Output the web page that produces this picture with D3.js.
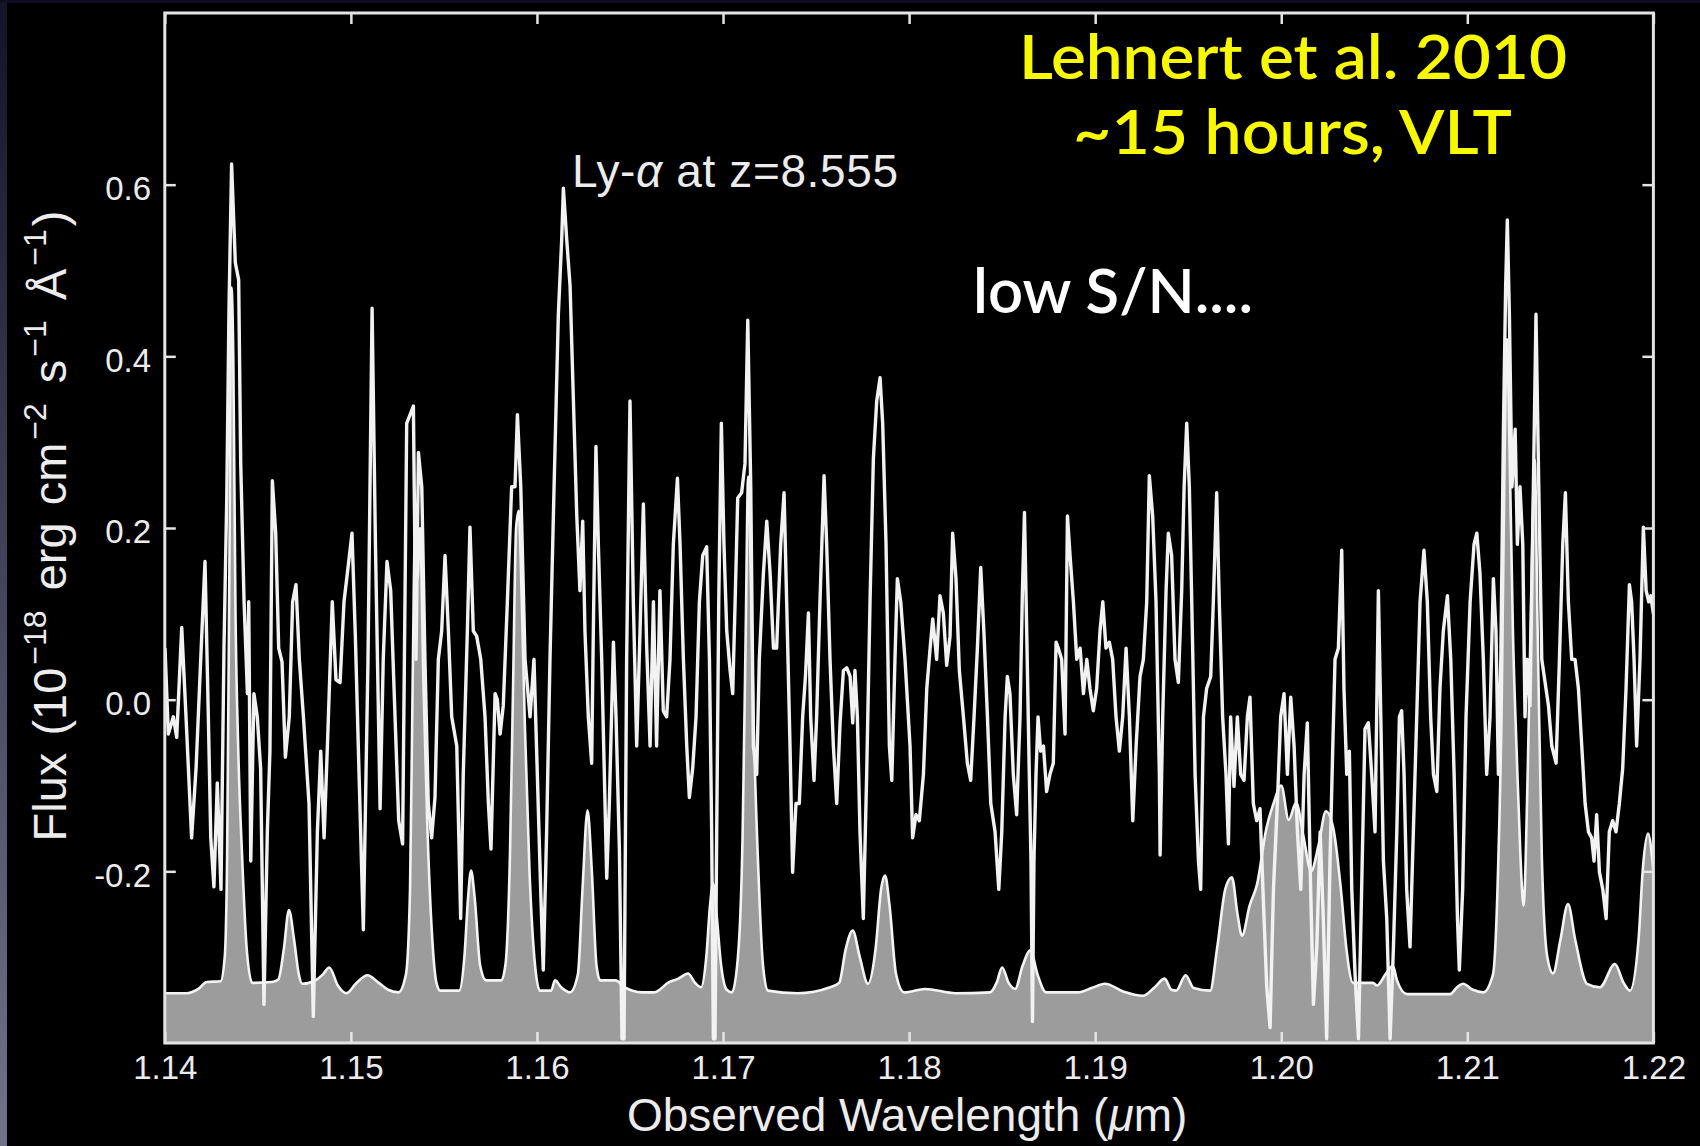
<!DOCTYPE html>
<html>
<head>
<meta charset="utf-8">
<script src="https://cdnjs.cloudflare.com/ajax/libs/d3/7.8.5/d3.min.js"></script>
<style>
  html, body { margin: 0; padding: 0; background: #000; }
  svg { display: block; }
</style>
</head>
<body>
<svg id="chart" width="1700" height="1146"></svg>
<script>
var xTicks = [1.14, 1.15, 1.16, 1.17, 1.18, 1.19, 1.20, 1.21, 1.22];
var xTickLabels = ['1.14', '1.15', '1.16', '1.17', '1.18', '1.19', '1.20', '1.21', '1.22'];
var yTicks = [-0.2, 0.0, 0.2, 0.4, 0.6];
var yTickLabels = ['-0.2', '0.0', '0.2', '0.4', '0.6'];

// object spectrum [wavelength (um), flux]
var spectrum = [
 [1.14001,0.060],[1.14019,-0.040],[1.14046,-0.020],[1.14064,-0.044],[1.14091,0.084],[1.14114,-0.020],[1.14144,-0.161],[1.14168,-0.080],[1.14193,0.047],[1.14216,0.161],[1.14234,-0.020],[1.14247,-0.161],[1.14264,-0.218],[1.14282,-0.097],[1.14302,-0.221],[1.14318,0.060],[1.14333,0.235],[1.14345,0.456],[1.14359,0.624],[1.14379,0.509],[1.14397,0.489],[1.14408,0.275],[1.14426,0.114],[1.14444,0.007],[1.14451,0.114],[1.14462,-0.188],[1.14479,0.007],[1.14497,-0.020],[1.14515,-0.080],[1.14533,-0.355],[1.14551,-0.154],[1.14565,-0.060],[1.14578,0.255],[1.14596,0.194],[1.14612,0.060],[1.14630,0.044],[1.14648,-0.067],[1.14669,-0.020],[1.14687,0.114],[1.14705,0.134],[1.14723,0.047],[1.14745,-0.020],[1.14775,-0.121],[1.14798,-0.369],[1.14820,-0.154],[1.14838,-0.060],[1.14856,-0.161],[1.14875,-0.047],[1.14900,0.114],[1.14920,0.023],[1.14942,0.020],[1.14963,0.114],[1.14981,0.147],[1.15006,0.194],[1.15024,0.074],[1.15044,-0.087],[1.15067,-0.268],[1.15092,0.047],[1.15114,0.456],[1.15132,0.181],[1.15157,-0.127],[1.15174,0.047],[1.15194,0.161],[1.15214,0.127],[1.15232,0.013],[1.15257,-0.141],[1.15278,-0.168],[1.15300,0.322],
 [1.15336,0.342],[1.15350,0.047],[1.15363,0.288],[1.15381,0.248],[1.15398,0.047],[1.15416,-0.121],[1.15434,-0.161],[1.15452,-0.114],[1.15470,0.047],[1.15488,0.080],[1.15506,0.168],[1.15524,0.080],[1.15542,-0.020],[1.15569,-0.054],[1.15590,-0.255],[1.15604,-0.087],[1.15626,0.080],[1.15640,0.201],[1.15658,0.080],[1.15676,0.074],[1.15698,0.047],[1.15721,-0.020],[1.15739,-0.121],[1.15753,-0.174],[1.15775,0.007],[1.15787,0.000],[1.15802,-0.040],[1.15819,-0.007],[1.15841,0.114],[1.15864,0.248],[1.15882,0.248],[1.15895,0.332],[1.15913,0.248],[1.15936,0.047],[1.15963,-0.020],[1.15984,0.047],[1.16002,-0.087],[1.16020,-0.221],[1.16034,-0.315],[1.16052,-0.154],[1.16070,0.047],[1.16092,0.248],[1.16115,0.449],[1.16133,0.536],[1.16142,0.596],[1.16160,0.536],[1.16178,0.482],[1.16196,0.348],[1.16214,0.214],[1.16231,0.127],[1.16246,0.208],[1.16258,0.080],[1.16276,-0.020],[1.16294,-0.074],[1.16303,0.080],[1.16317,0.295],[1.16330,0.181],[1.16348,0.047],[1.16375,-0.208],[1.16389,-0.121],[1.16411,0.067],[1.16425,-0.020],[1.16443,-0.174],[1.16457,-0.395],[1.16468,-0.395],[1.16482,0.047],[1.16500,0.348],[1.16518,0.114],[1.16536,-0.054],[1.16554,0.080],[1.16572,0.228],[1.16590,0.060],[1.16608,-0.054],[1.16626,0.114],[1.16643,-0.054],
 [1.16661,0.127],[1.16679,-0.013],[1.16697,-0.020],[1.16715,0.047],[1.16733,0.181],[1.16755,0.258],[1.16769,0.181],[1.16787,0.047],[1.16805,-0.054],[1.16819,-0.114],[1.16837,-0.080],[1.16855,-0.020],[1.16873,0.114],[1.16891,0.168],[1.16912,0.178],[1.16927,0.047],[1.16939,-0.154],[1.16948,-0.395],[1.16957,-0.395],[1.16966,-0.154],[1.16977,0.114],[1.16991,0.322],[1.17005,0.181],[1.17020,0.080],[1.17038,0.034],[1.17052,0.007],[1.17065,0.114],[1.17079,0.235],[1.17100,0.241],[1.17118,0.275],[1.17133,0.442],[1.17149,0.248],[1.17163,-0.054],[1.17181,-0.087],[1.17195,0.047],[1.17217,0.147],[1.17235,0.208],[1.17253,0.147],[1.17271,0.060],[1.17288,0.060],[1.17310,0.181],[1.17328,0.241],[1.17342,0.114],[1.17360,-0.054],[1.17374,-0.201],[1.17392,-0.121],[1.17410,-0.121],[1.17428,-0.020],[1.17443,0.027],[1.17459,0.101],[1.17471,-0.020],[1.17489,-0.094],[1.17503,-0.020],[1.17521,0.114],[1.17543,0.261],[1.17557,0.181],[1.17575,0.047],[1.17593,-0.054],[1.17611,-0.121],[1.17629,-0.027],[1.17647,0.034],[1.17665,0.037],[1.17683,0.027],[1.17697,-0.027],[1.17709,0.034],[1.17722,-0.020],[1.17736,-0.154],[1.17754,-0.255],[1.17772,-0.087],[1.17790,0.114],[1.17808,0.281],[1.17826,0.348],[1.17844,0.375],[1.17858,0.322],[1.17876,0.181],[1.17894,-0.054],[1.17907,-0.094],[1.17924,0.047],[1.17937,0.141],[1.17955,0.114],[1.17978,0.047],[1.18005,-0.054],
 [1.18019,-0.161],[1.18037,-0.134],[1.18055,-0.141],[1.18077,-0.087],[1.18095,0.013],[1.18113,0.060],[1.18127,0.094],[1.18148,0.047],[1.18166,0.121],[1.18184,0.101],[1.18202,0.040],[1.18220,0.074],[1.18234,0.194],[1.18252,0.141],[1.18270,0.034],[1.18292,-0.020],[1.18313,-0.074],[1.18331,-0.094],[1.18349,-0.020],[1.18367,0.060],[1.18385,0.154],[1.18403,0.074],[1.18421,-0.020],[1.18439,-0.121],[1.18462,-0.154],[1.18482,-0.221],[1.18498,-0.154],[1.18516,-0.020],[1.18528,0.027],[1.18542,0.007],[1.18560,-0.087],[1.18578,-0.134],[1.18596,-0.020],[1.18609,0.127],[1.18620,0.218],[1.18632,0.080],[1.18646,-0.087],[1.18655,-0.188],[1.18663,-0.375],[1.18671,-0.188],[1.18682,-0.087],[1.18693,-0.020],[1.18707,-0.060],[1.18722,-0.054],[1.18739,-0.107],[1.18757,-0.087],[1.18775,-0.074],[1.18790,0.067],[1.18802,0.060],[1.18820,0.047],[1.18838,-0.040],[1.18851,0.214],[1.18865,0.168],[1.18883,0.114],[1.18901,0.047],[1.18919,0.060],[1.18937,0.007],[1.18955,0.047],[1.18972,0.013],[1.18990,-0.013],[1.19008,0.013],[1.19026,0.080],[1.19041,0.114],[1.19058,0.060],[1.19076,0.067],[1.19094,0.047],[1.19112,-0.020],[1.19130,-0.060],[1.19148,-0.020],[1.19166,0.060],[1.19184,-0.020],[1.19202,-0.141],[1.19220,-0.054],[1.19241,0.027],[1.19259,0.047],[1.19277,0.114],[1.19291,0.261],[1.19309,0.214],[1.19327,0.114],[1.19345,-0.087],
 [1.19349,-0.181],[1.19363,-0.020],[1.19381,0.127],[1.19393,0.194],[1.19411,0.168],[1.19429,0.047],[1.19447,0.020],[1.19465,0.127],[1.19478,0.248],[1.19492,0.322],[1.19506,0.248],[1.19519,0.114],[1.19537,-0.087],[1.19555,-0.188],[1.19567,-0.221],[1.19582,-0.020],[1.19599,0.013],[1.19621,0.027],[1.19635,0.114],[1.19653,0.241],[1.19667,0.114],[1.19685,-0.020],[1.19703,-0.087],[1.19716,-0.168],[1.19728,-0.020],[1.19746,-0.101],[1.19764,-0.020],[1.19782,-0.087],[1.19800,-0.094],[1.19818,-0.020],[1.19832,0.003],[1.19850,-0.121],[1.19868,-0.141],[1.19886,-0.127],[1.19904,-0.235],[1.19922,-0.335],[1.19940,-0.382],[1.19958,-0.221],[1.19979,-0.121],[1.19997,-0.020],[1.20015,0.007],[1.20033,-0.087],[1.20051,0.003],[1.20069,-0.054],[1.20087,-0.154],[1.20105,-0.221],[1.20123,-0.087],[1.20140,-0.027],[1.20158,-0.221],[1.20173,-0.355],[1.20191,-0.288],[1.20209,-0.154],[1.20226,-0.255],[1.20244,-0.395],[1.20262,-0.188],[1.20277,-0.054],[1.20289,0.047],[1.20307,0.060],[1.20325,0.174],[1.20337,0.013],[1.20352,-0.087],[1.20366,-0.060],[1.20379,-0.221],[1.20397,-0.322],[1.20415,-0.395],[1.20432,-0.221],[1.20450,-0.034],[1.20468,-0.027],[1.20486,-0.087],[1.20504,-0.154],[1.20522,0.127],[1.20535,-0.020],[1.20549,-0.188],[1.20567,-0.255],[1.20585,-0.395],[1.20603,-0.288],[1.20621,-0.154],[1.20635,-0.020],[1.20647,-0.013],[1.20660,-0.087],[1.20674,-0.221],[1.20692,-0.288],
 [1.20710,-0.154],[1.20728,-0.020],[1.20746,0.114],[1.20767,0.174],[1.20785,0.114],[1.20803,-0.020],[1.20818,-0.087],[1.20836,-0.107],[1.20853,0.013],[1.20871,0.080],[1.20893,0.121],[1.20911,0.047],[1.20929,-0.087],[1.20947,-0.255],[1.20957,-0.315],[1.20975,-0.221],[1.20993,-0.020],[1.21015,0.114],[1.21036,0.181],[1.21051,0.194],[1.21068,0.147],[1.21086,0.047],[1.21104,-0.087],[1.21122,-0.020],[1.21140,0.141],[1.21154,0.080],[1.21167,-0.087],[1.21180,0.047],[1.21194,0.315],[1.21206,0.482],[1.21215,0.559],[1.21226,0.449],[1.21240,0.248],[1.21257,0.315],[1.21269,0.181],[1.21283,0.248],[1.21298,0.181],[1.21310,-0.020],[1.21323,0.047],[1.21337,-0.007],[1.21355,0.248],[1.21369,0.449],[1.21384,0.248],[1.21400,0.047],[1.21418,0.020],[1.21436,-0.007],[1.21454,-0.054],[1.21477,-0.074],[1.21495,0.047],[1.21513,0.181],[1.21527,0.241],[1.21543,0.114],[1.21561,0.047],[1.21579,0.047],[1.21597,0.013],[1.21615,-0.054],[1.21633,-0.121],[1.21651,-0.154],[1.21668,-0.161],[1.21681,-0.188],[1.21695,-0.134],[1.21710,-0.201],[1.21728,-0.221],[1.21746,-0.255],[1.21763,-0.154],[1.21781,-0.141],[1.21799,-0.154],[1.21817,-0.121],[1.21835,-0.080],[1.21853,0.013],[1.21871,0.134],[1.21883,0.114],[1.21896,0.047],[1.21910,-0.054],[1.21928,0.047],[1.21946,0.201],[1.21961,0.127],[1.21975,0.114],[1.21986,0.121],[1.22000,0.100]
];

// sky / noise spectrum (grey filled), [wavelength, flux]
var sky = [
 [1.14000,-0.342],[1.14120,-0.342],[1.14180,-0.337],[1.14225,-0.329],[1.14300,-0.328],[1.14322,-0.30],[1.14335,-0.18],[1.14347,0.15],[1.14358,0.48],[1.14368,0.40],[1.14380,0.10],[1.14395,-0.06],[1.14415,-0.18],[1.14440,-0.29],[1.14470,-0.330],[1.14576,-0.329],[1.14610,-0.326],[1.14640,-0.29],[1.14667,-0.245],[1.14695,-0.28],[1.14720,-0.32],[1.14739,-0.331],[1.14800,-0.328],[1.14850,-0.32],[1.14884,-0.312],[1.14930,-0.333],[1.14976,-0.342],[1.15030,-0.33],[1.15089,-0.321],[1.15150,-0.33],[1.15200,-0.338],[1.15256,-0.341],[1.15296,-0.32],[1.15318,-0.22],[1.15332,0.02],[1.15345,0.20],[1.15358,0.14],[1.15372,0.20],[1.15390,0.02],[1.15410,-0.14],[1.15435,-0.27],[1.15460,-0.33],[1.15480,-0.339],[1.15582,-0.339],[1.15610,-0.30],[1.15630,-0.23],[1.15646,-0.199],[1.15665,-0.23],[1.15695,-0.31],[1.15727,-0.327],[1.15807,-0.327],[1.15830,-0.31],[1.15855,-0.18],[1.15872,0.02],[1.15888,0.20],[1.15902,0.22],[1.15918,0.12],[1.15935,-0.03],[1.15960,-0.20],[1.15990,-0.31],[1.16016,-0.339],[1.16076,-0.339],[1.16097,-0.327],[1.16130,-0.335],[1.16178,-0.341],[1.16220,-0.32],[1.16245,-0.22],[1.16272,-0.129],[1.16295,-0.20],[1.16320,-0.31],[1.16340,-0.327],[1.16422,-0.327],[1.16470,-0.335],[1.16566,-0.341],[1.16630,-0.341],[1.16710,-0.329],[1.16760,-0.325],[1.16812,-0.319],[1.16850,-0.33],[1.16882,-0.335],[1.16910,-0.30],[1.16930,-0.24],[1.16946,-0.214],[1.16965,-0.25],[1.16990,-0.31],[1.17020,-0.338],[1.17048,-0.341],[1.17080,-0.30],[1.17105,-0.16],[1.17122,0.08],[1.17135,0.26],[1.17148,0.16],[1.17165,-0.03],[1.17190,-0.20],[1.17215,-0.31],[1.17242,-0.339],[1.17400,-0.342],[1.17576,-0.335],[1.17624,-0.33],[1.17660,-0.29],[1.17697,-0.269],[1.17735,-0.30],[1.17779,-0.331],[1.17820,-0.29],[1.17850,-0.22],[1.17871,-0.205],[1.17895,-0.24],[1.17930,-0.32],[1.17973,-0.341],[1.18086,-0.337],[1.18250,-0.342],[1.18435,-0.341],[1.18470,-0.33],[1.18500,-0.312],[1.18535,-0.33],[1.18570,-0.337],[1.18610,-0.31],[1.18652,-0.292],[1.18690,-0.32],[1.18736,-0.341],[1.18908,-0.341],[1.18980,-0.336],[1.19053,-0.331],[1.19150,-0.34],[1.19257,-0.345],[1.19320,-0.335],[1.19373,-0.325],[1.19410,-0.338],[1.19435,-0.339],[1.19486,-0.321],[1.19530,-0.336],[1.19618,-0.339],[1.19655,-0.29],[1.19700,-0.22],[1.19735,-0.207],[1.19765,-0.25],[1.19789,-0.275],[1.19830,-0.24],[1.19870,-0.215],[1.19920,-0.15],[1.19960,-0.12],[1.20000,-0.10],[1.20040,-0.14],[1.20080,-0.12],[1.20120,-0.16],[1.20160,-0.20],[1.20200,-0.17],[1.20240,-0.13],[1.20280,-0.15],[1.20320,-0.22],[1.20350,-0.29],[1.20386,-0.33],[1.20493,-0.33],[1.20515,-0.333],[1.20560,-0.32],[1.20600,-0.31],[1.20622,-0.327],[1.20676,-0.343],[1.20907,-0.343],[1.20945,-0.335],[1.20977,-0.331],[1.21030,-0.338],[1.21085,-0.341],[1.21138,-0.32],[1.21165,-0.20],[1.21185,0.00],[1.21200,0.28],[1.21213,0.42],[1.21228,0.28],[1.21245,0.08],[1.21265,-0.06],[1.21285,-0.18],[1.21302,-0.24],[1.21325,-0.08],[1.21345,0.14],[1.21362,0.28],[1.21378,0.08],[1.21400,-0.18],[1.21430,-0.30],[1.21461,-0.319],[1.21500,-0.28],[1.21541,-0.238],[1.21580,-0.28],[1.21643,-0.331],[1.21713,-0.335],[1.21793,-0.308],[1.21840,-0.33],[1.21874,-0.339],[1.21920,-0.28],[1.21944,-0.195],[1.21971,-0.156],[1.22000,-0.20]
];

(function(){
    var W = 1700, H = 1146;
    var left = 164.8, right = 1653.4, top = 13, bottom = 1043;
    var tickLen = 11;
    var axisFont = '"Liberation Sans", Arial, Helvetica, sans-serif';
    var slideFont = 'Lato, "Open Sans", sans-serif';
    var ink = '#ececec';

    var svg = d3.select('#chart');
    var defs = svg.append('defs');

    var x = d3.scaleLinear().domain([1.14, 1.22]).range([left, right]);
    var y = d3.scaleLinear().domain([-0.4, 0.8]).range([bottom, top]);

    // slide background: black with a faint bluish edge at left/top
    svg.append('rect').attr('width', W).attr('height', H).attr('fill', '#000');
    var grad = defs.append('linearGradient').attr('id', 'edge')
        .attr('x1', 0).attr('y1', 0).attr('x2', 0).attr('y2', 1);
    grad.append('stop').attr('offset', '0%').attr('stop-color', '#141428');
    grad.append('stop').attr('offset', '100%').attr('stop-color', '#72728a');
    svg.append('rect').attr('width', 7).attr('height', H).attr('fill', 'url(#edge)');
    svg.append('rect').attr('width', W).attr('height', 3).attr('fill', '#0e0e20');

    defs.append('clipPath').attr('id', 'plotClip').append('rect')
        .attr('x', left).attr('y', top)
        .attr('width', right - left).attr('height', bottom - top);

    var plot = svg.append('g').attr('clip-path', 'url(#plotClip)');

    var skyArea = d3.area()
        .curve(d3.curveMonotoneX)
        .x(function(d){ return x(d[0]); })
        .y0(bottom)
        .y1(function(d){ return y(d[1]); });
    var skyLine = d3.line()
        .curve(d3.curveMonotoneX)
        .x(function(d){ return x(d[0]); })
        .y(function(d){ return y(d[1]); });
    var objLine = d3.line()
        .x(function(d){ return x(d[0]); })
        .y(function(d){ return y(d[1]); });

    plot.append('path').datum(sky)
        .attr('d', skyArea)
        .attr('fill', '#9c9c9c');
    plot.append('path').datum(sky)
        .attr('d', skyLine)
        .attr('fill', 'none')
        .attr('stroke', '#f4f4f4')
        .attr('stroke-width', 2.6);
    plot.append('path').datum(spectrum)
        .attr('d', objLine)
        .attr('fill', 'none')
        .attr('stroke', '#f2f2f2')
        .attr('stroke-width', 3.4)
        .attr('stroke-linejoin', 'round');

    // frame
    svg.append('rect')
        .attr('x', left).attr('y', top)
        .attr('width', right - left).attr('height', bottom - top)
        .attr('fill', 'none')
        .attr('stroke', '#e4e4e4')
        .attr('stroke-width', 3);

    function styleAxis(g){
        g.select('.domain').remove();
        g.attr('font-family', axisFont).attr('font-size', 33);
        g.selectAll('line').attr('stroke', '#e4e4e4').attr('stroke-width', 2.5);
        g.selectAll('text').attr('fill', ink);
    }

    var gBottom = svg.append('g')
        .attr('transform', 'translate(0,' + bottom + ')')
        .call(d3.axisBottom(x)
            .tickValues(xTicks)
            .tickFormat(function(d){ return xTickLabels[xTicks.indexOf(d)]; })
            .tickSizeInner(-tickLen).tickSizeOuter(0).tickPadding(13));
    styleAxis(gBottom);

    var gTop = svg.append('g')
        .attr('transform', 'translate(0,' + top + ')')
        .call(d3.axisTop(x).tickValues(xTicks).tickFormat('')
            .tickSizeInner(-tickLen).tickSizeOuter(0));
    styleAxis(gTop);

    var gLeft = svg.append('g')
        .attr('transform', 'translate(' + left + ',0)')
        .call(d3.axisLeft(y)
            .tickValues(yTicks)
            .tickFormat(function(d){ return yTickLabels[yTicks.indexOf(d)]; })
            .tickSizeInner(-tickLen).tickSizeOuter(0).tickPadding(13.8));
    styleAxis(gLeft);
    gLeft.selectAll('text').attr('dy', '0.45em');

    var gRight = svg.append('g')
        .attr('transform', 'translate(' + right + ',0)')
        .call(d3.axisRight(y).tickValues(yTicks).tickFormat('')
            .tickSizeInner(-tickLen).tickSizeOuter(0));
    styleAxis(gRight);

    // x title
    var xt = svg.append('text')
        .attr('x', (left + right) / 2 - 2).attr('y', 1131)
        .attr('text-anchor', 'middle')
        .attr('font-family', axisFont).attr('font-size', 46)
        .attr('fill', ink);
    xt.append('tspan').text('Observed Wavelength (');
    xt.append('tspan').attr('font-style', 'italic').text('\u03bc');
    xt.append('tspan').text('m)');

    // y title with superscripts
    var yt = svg.append('text')
        .attr('transform', 'translate(66,526) rotate(-90)')
        .attr('text-anchor', 'middle')
        .attr('font-family', axisFont).attr('font-size', 47)
        .attr('word-spacing', 4)
        .attr('fill', ink);
    var parts = [['Flux (10', 0], ['\u221218', 1], [' erg cm', 0], ['\u22122', 1],
                 [' s', 0], ['\u22121', 1], [' \u00c5', 0], ['\u22121', 1], [')', 0]];
    var prevSup = false;
    parts.forEach(function(p){
        var t = yt.append('tspan').text(p[0]);
        if (p[1]) {
            t.attr('font-size', 32).attr('dx', 3).attr('dy', prevSup ? 0 : -20);
        } else {
            t.attr('dx', prevSup ? 3 : 0).attr('dy', prevSup ? 20 : 0);
        }
        prevSup = !!p[1];
    });

    // line annotation
    var ly = svg.append('text')
        .attr('x', 572).attr('y', 187)
        .attr('textLength', 326).attr('lengthAdjust', 'spacing')
        .attr('font-family', axisFont).attr('font-size', 46)
        .attr('fill', ink);
    ly.append('tspan').text('Ly-');
    ly.append('tspan').attr('font-style', 'italic').text('\u03b1');
    ly.append('tspan').text(' at z=8.555');

    // slide overlay texts
    svg.append('text')
        .attr('x', 1019).attr('y', 79)
        .attr('textLength', 548).attr('lengthAdjust', 'spacingAndGlyphs')
        .attr('font-family', slideFont).attr('font-size', 62).attr('font-weight', 600)
        .attr('fill', '#f8f800')
        .text('Lehnert et al. 2010');
    svg.append('text')
        .attr('x', 1073).attr('y', 154)
        .attr('textLength', 439).attr('lengthAdjust', 'spacingAndGlyphs')
        .attr('font-family', slideFont).attr('font-size', 62).attr('font-weight', 600)
        .attr('fill', '#f8f800')
        .text('~15 hours, VLT');
    svg.append('text')
        .attr('x', 973).attr('y', 313)
        .attr('textLength', 280).attr('lengthAdjust', 'spacingAndGlyphs')
        .attr('font-family', slideFont).attr('font-size', 62).attr('font-weight', 600)
        .attr('fill', '#ffffff')
        .text('low S/N....');
})();
</script>
</body>
</html>
